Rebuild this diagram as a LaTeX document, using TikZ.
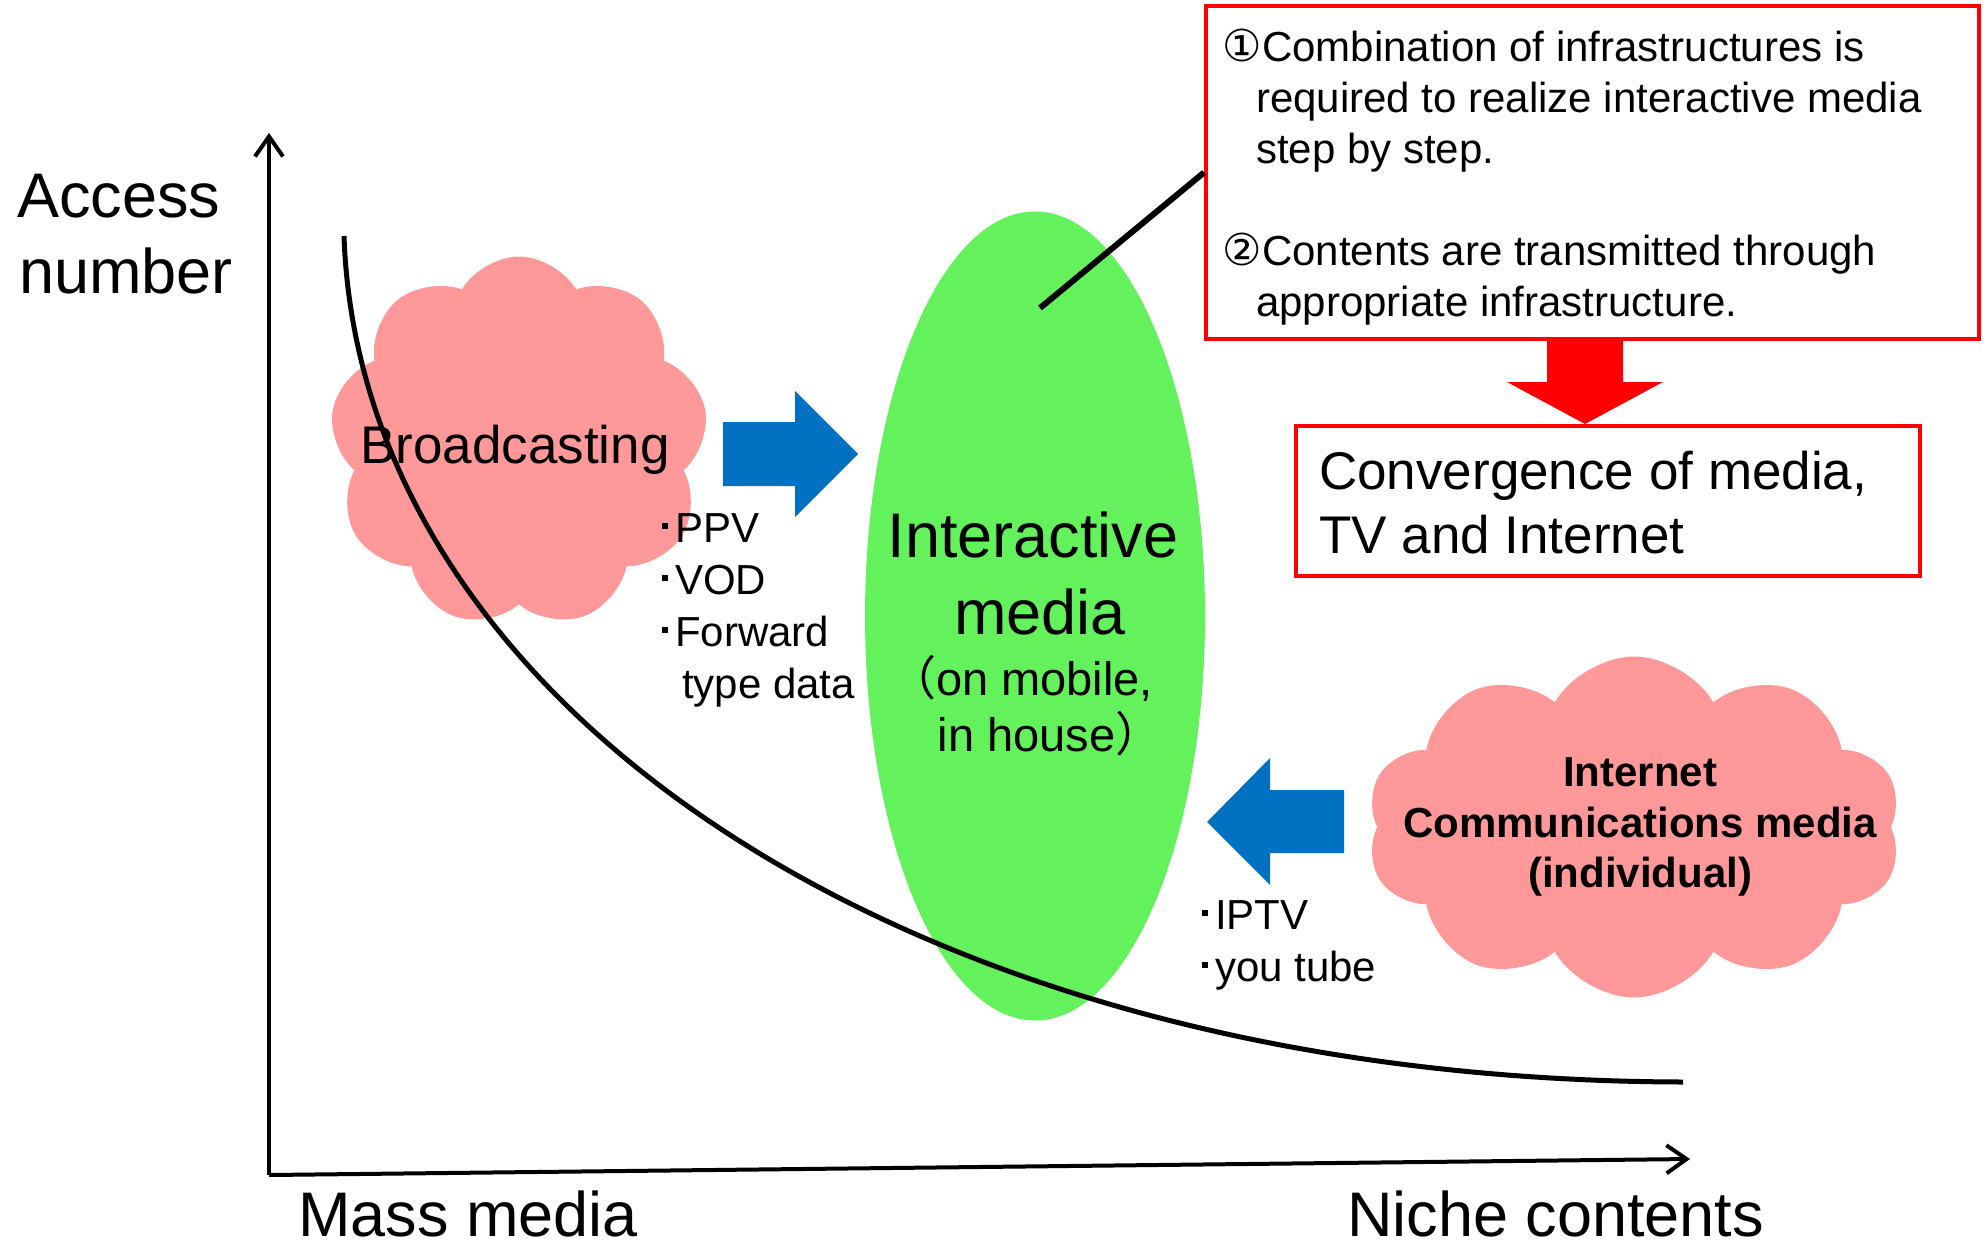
\documentclass[tikz,border=0pt]{standalone}
\usepackage{fontspec}
\setmainfont{Liberation Sans}
\newfontfamily\cjk{Noto Sans CJK JP}
\newfontfamily\dejavu{DejaVu Sans}
\usetikzlibrary{shapes.geometric,shapes.symbols,arrows.meta}
\definecolor{pinkc}{RGB}{255,153,153}
\definecolor{igreen}{RGB}{100,242,92}
\definecolor{blueA}{RGB}{0,112,192}
\definecolor{redA}{RGB}{255,0,0}
\newcommand{\sqb}{\rule[13pt]{6pt}{6pt}\hspace{7pt}}
\newcommand{\circd}[1]{\makebox[40pt][l]{\dejavu\fontsize{44}{44}\selectfont #1}}
\tikzset{
  txt/.style={inner sep=0pt, anchor=base west},
  ctxt/.style={inner sep=0pt, anchor=base},
  big/.style={font=\fontsize{63}{76}\selectfont},
  mid/.style={font=\fontsize{53}{63}\selectfont},
  sml/.style={font=\fontsize{42}{51}\selectfont},
  smlb/.style={font=\fontsize{42}{51}\selectfont\bfseries},
  paren/.style={font=\fontsize{47}{56}\selectfont},
  cloudst/.style={cloud, fill=pinkc, draw=none, inner sep=0pt, cloud puff arc=120},
  redbox/.style={draw=redA, line width=4pt, fill=white, inner sep=0pt},
  axis/.style={line width=4pt, -{Straight Barb[length=20pt,width=28pt]}},
}
\begin{document}
\begin{tikzpicture}[x=1pt,y=-1pt]
\useasboundingbox[fill=white] (0,0) rectangle (1988,1250);

% clouds
\node[cloudst, cloud puffs=9, minimum width=378pt, minimum height=371pt] (bc) at (519,442) {};
\node[cloudst, cloud puffs=10, minimum width=535pt, minimum height=341pt] (ic) at (1634,827) {};

% interactive media ellipse
\node[ellipse, fill=igreen, draw=none, inner sep=0pt, minimum width=340pt, minimum height=809pt] (im) at (1035,616) {};

% blue block arrows
\fill[blueA] (723,422) -- (795,422) -- (795,391) -- (858,454) -- (795,517) -- (795,486) -- (723,486) -- cycle;
\fill[blueA] (1344,790) -- (1270,790) -- (1270,758) -- (1207,822) -- (1270,885) -- (1270,853) -- (1344,853) -- cycle;

% axes
\coordinate (origin) at (269,1175);
\coordinate (ytop) at (269,133);
\coordinate (xend) at (1690,1159);
\draw[axis] (origin) -- (ytop);
\draw[axis] (origin) -- (xend);

% curve
\coordinate (cs) at (344,236);
\coordinate (ce) at (1683,1082);
\draw[line width=5pt] (cs) .. controls (360,700) and (900,1080) .. (ce);

% boxes
\node[redbox, minimum width=773pt, minimum height=333pt] (box1) at (1592.5,172.5) {};
\node[redbox, minimum width=624pt, minimum height=150pt] (box2) at (1608,501) {};

% red arrow
\fill[redA] (1547,341) -- (1623,341) -- (1623,382) -- (1663,382) -- (1585,424) -- (1507,382) -- (1547,382) -- cycle;

% callout line
\coordinate (cl) at (1040,308);
\draw[line width=6pt] (cl) -- (box1.west);

% axis labels
\node[txt, big] (acc) at (17,217) {Access};
\node[txt, big] (num) at (19,293) {number};
\node[txt, big] (mass) at (298,1236) {Mass media};
\node[txt, big] (niche) at (1347,1236) {Niche contents};

% broadcasting
\node[ctxt, mid] (bct) at (515,463) {Broadcasting};
\node[txt, sml] (b1) at (662,542) {\sqb PPV};
\node[txt, sml] (b2) at (662,594) {\sqb VOD};
\node[txt, sml] (b3) at (662,646) {\sqb Forward};
\node[txt, sml] (b4) at (682,698) {type data};

% interactive
\node[ctxt, big] (im1) at (1033,557) {Interactive};
\node[ctxt, big] (im2) at (1040,634) {media};
\node[ctxt, paren] (im3) at (1021,695) {{\cjk （}on mobile,};
\node[ctxt, paren] (im4) at (1050,751) {in house{\cjk ）}};

% box1 text
\node[txt, sml] (t1) at (1222,61) {\circd{①}Combination of infrastructures is};
\node[txt, sml] (t2) at (1256,112) {required to realize interactive media};
\node[txt, sml] (t3) at (1256,163) {step by step.};
\node[txt, sml] (t4) at (1222,265) {\circd{②}Contents are transmitted through};
\node[txt, sml] (t5) at (1256,316) {appropriate infrastructure.};

% box2 text
\node[txt, mid] (c1) at (1319,489) {Convergence of media,};
\node[txt, mid] (c2) at (1319,553) {TV and Internet};

% internet cloud text
\node[ctxt, smlb] (i1) at (1640,786) {Internet};
\node[ctxt, smlb] (i2) at (1640,837) {Communications media};
\node[ctxt, smlb] (i3) at (1640,887) {(individual)};

\node[txt, sml] (p1) at (1202,929) {\sqb IPTV};
\node[txt, sml] (p2) at (1202,981) {\sqb you tube};
\end{tikzpicture}
\end{document}
